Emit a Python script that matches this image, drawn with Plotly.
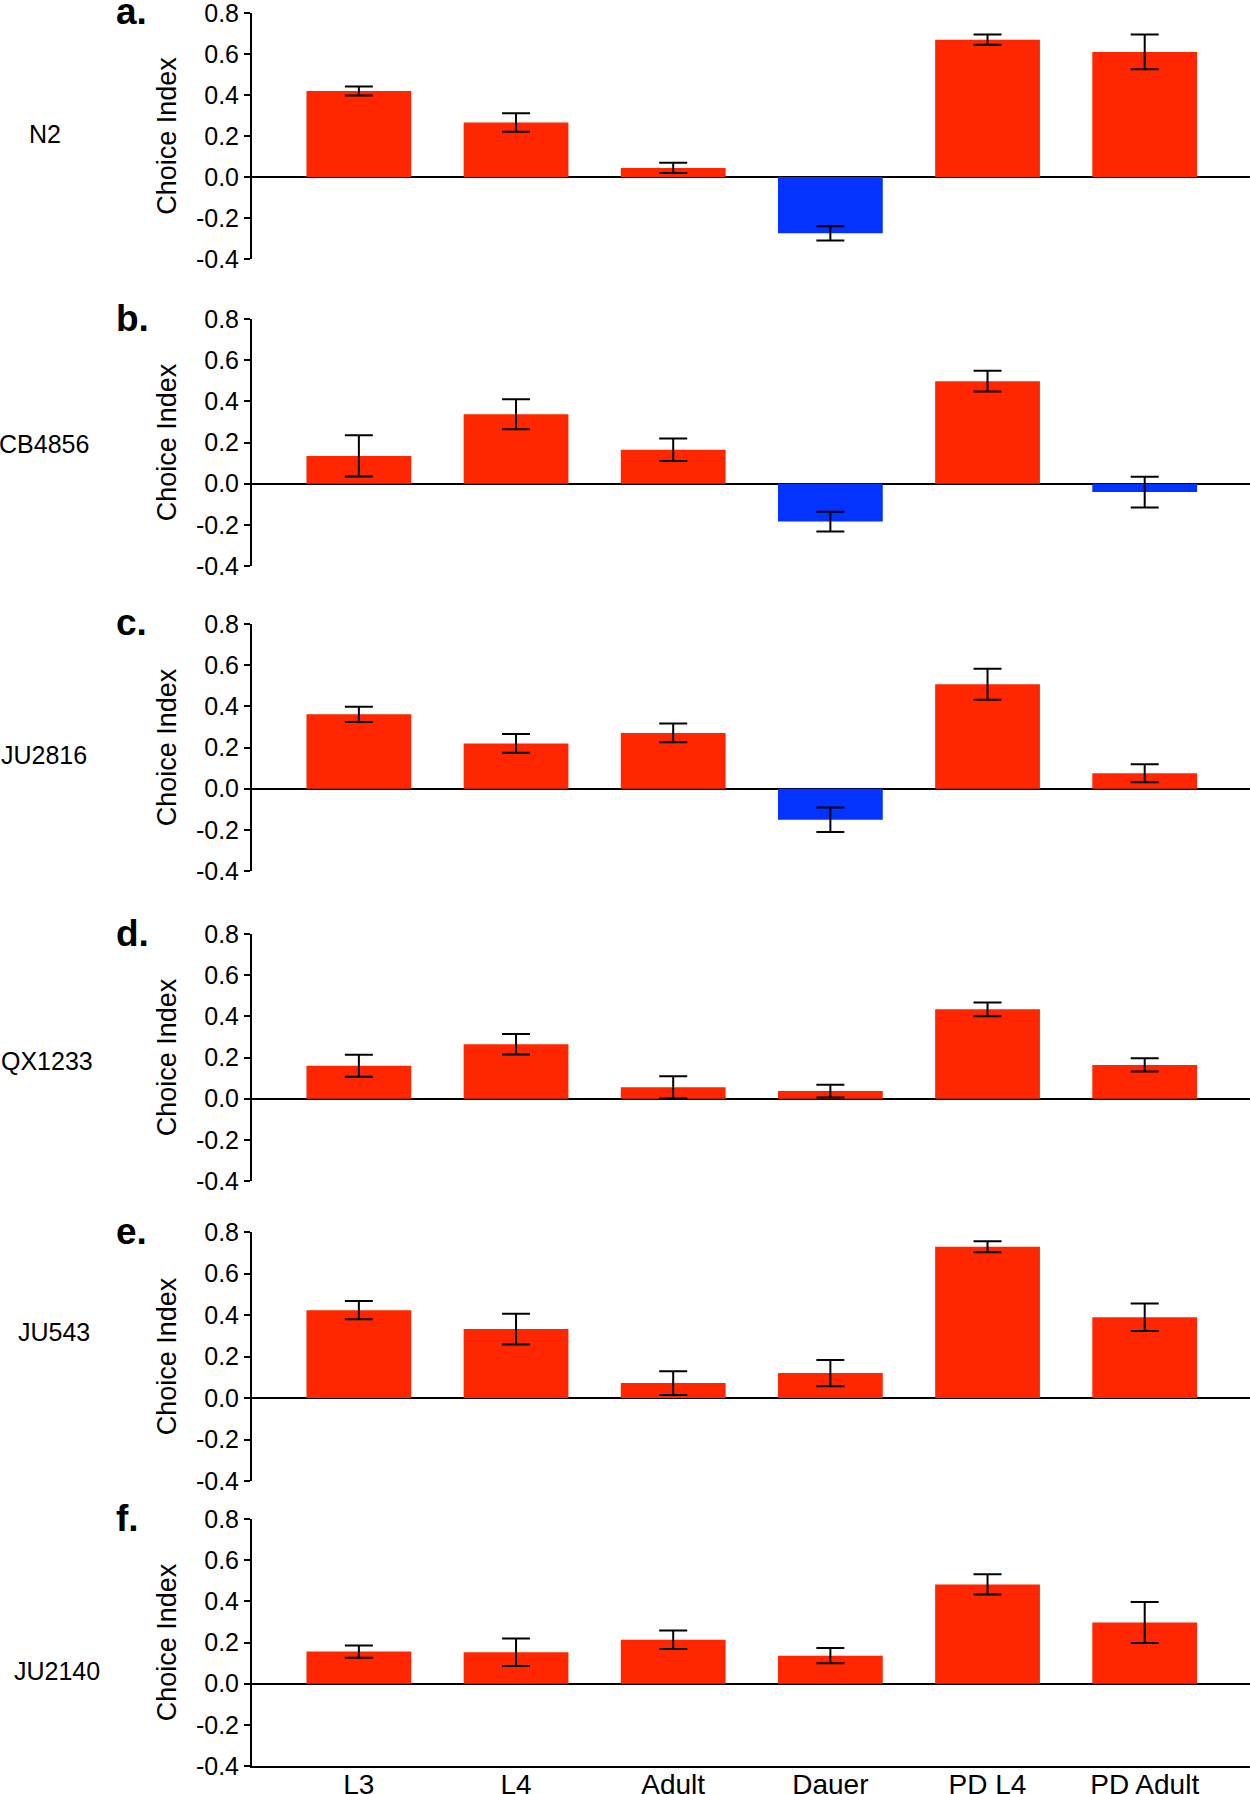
import plotly.graph_objects as go

# stages on the x axis
stages = ["L3", "L4", "Adult", "Dauer", "PD L4", "PD Adult"]

strains = ["N2", "CB4856", "JU2816", "QX1233", "JU543", "JU2140"]
panel_letters = ["a.", "b.", "c.", "d.", "e.", "f."]

# mean choice index per stage, one list per strain
ci_n2 = [0.42, 0.266, 0.044, -0.275, 0.67, 0.61]
ci_cb4856 = [0.135, 0.337, 0.165, -0.184, 0.498, -0.041]
ci_ju2816 = [0.361, 0.220, 0.271, -0.151, 0.507, 0.075]
ci_qx1233 = [0.160, 0.264, 0.055, 0.037, 0.434, 0.164]
ci_ju543 = [0.423, 0.332, 0.072, 0.120, 0.729, 0.389]
ci_ju2140 = [0.156, 0.153, 0.213, 0.136, 0.482, 0.297]

# error (s.e.m.) per stage
err_n2 = [0.022, 0.045, 0.025, 0.035, 0.025, 0.085]
err_cb4856 = [0.10, 0.073, 0.055, 0.048, 0.050, 0.075]
err_ju2816 = [0.037, 0.046, 0.045, 0.060, 0.075, 0.044]
err_qx1233 = [0.053, 0.050, 0.054, 0.031, 0.033, 0.032]
err_ju543 = [0.044, 0.074, 0.057, 0.063, 0.026, 0.066]
err_ju2140 = [0.030, 0.067, 0.045, 0.037, 0.049, 0.100]

ci_all = [ci_n2, ci_cb4856, ci_ju2816, ci_qx1233, ci_ju543, ci_ju2140]
err_all = [err_n2, err_cb4856, err_ju2816, err_qx1233, err_ju543, err_ju2140]

y_ticks = [-0.4, -0.2, 0.0, 0.2, 0.4, 0.6, 0.8]
y_ticktext = ["-0.4", "-0.2", "0.0", "0.2", "0.4", "0.6", "0.8"]

RED = "#FF2600"
BLUE = "#0433FF"
FONT = "Liberation Sans, Arial, sans-serif"

W, H = 1250, 1794
# pixel top/bottom of each panel's plot area (0.8 .. -0.4)
panel_px = [(13, 259), (319, 566), (624, 871), (934, 1181), (1232, 1481), (1519, 1766)]
x_left = 252

fig = go.Figure()
layout = dict(
    width=W, height=H,
    margin=dict(l=0, r=0, t=0, b=0, autoexpand=False),
    paper_bgcolor="white", plot_bgcolor="white",
    showlegend=False,
    bargap=1 / 3,
    font=dict(family=FONT, color="black"),
)
annotations = []

for i in range(6):
    n = "" if i == 0 else str(i + 1)
    vals = ci_all[i]
    colors = [RED if v >= 0 else BLUE for v in vals]
    fig.add_trace(go.Bar(
        x=stages, y=vals,
        marker=dict(color=colors, line=dict(width=0)),
        error_y=dict(type="data", array=err_all[i], visible=True,
                     color="black", thickness=2, width=14),
        xaxis="x" + n, yaxis="y" + n,
    ))
    top, bot = panel_px[i]
    last = i == 5
    layout["xaxis" + n] = dict(
        domain=[x_left / W, 1.0], anchor="y" + n, automargin=False,
        type="category", range=[-0.68, 5.67],
        showline=last, linecolor="black", linewidth=2,
        showticklabels=last, ticks="", ticklabeloverflow="allow",
        ticklabelstandoff=-8,
        tickfont=dict(size=28, family=FONT, color="black"),
        showgrid=False, zeroline=False,
    )
    layout["yaxis" + n] = dict(
        domain=[1 - bot / H, 1 - top / H], anchor="x" + n, automargin=False,
        range=[-0.4, 0.8],
        tickvals=y_ticks, ticktext=y_ticktext, ticklabeloverflow="allow",
        ticks="outside", ticklen=6, tickwidth=2, tickcolor="black",
        showline=True, linecolor="black", linewidth=2,
        showgrid=False,
        zeroline=True, zerolinecolor="black", zerolinewidth=2,
        tickfont=dict(size=25, family=FONT, color="black"),
        title=dict(text="Choice Index", font=dict(size=27, family=FONT, color="black"), standoff=11),
    )
    # panel letter
    annotations.append(dict(
        text="<b>" + panel_letters[i] + "</b>", xref="paper", yref="paper",
        x=114 / W, y=1 - (top - 1) / H, xanchor="left", yanchor="middle",
        showarrow=False, font=dict(size=37, family=FONT, color="black"),
    ))

# strain names on the left
strain_px = [(45, 134), (44, 444), (44, 755), (47, 1061), (54, 1332), (57, 1671)]
for name, (sx, sy) in zip(strains, strain_px):
    annotations.append(dict(
        text=name, xref="paper", yref="paper",
        x=sx / W, y=1 - sy / H, xanchor="center", yanchor="middle",
        showarrow=False, font=dict(size=25, family=FONT, color="black"),
    ))

layout["annotations"] = annotations
fig.update_layout(**layout)
# drop the page's default body margin so the figure sits at the top-left corner
fig.write_html("out.html", config={"displayModeBar": False},
               post_script="document.body.style.margin='0';")
